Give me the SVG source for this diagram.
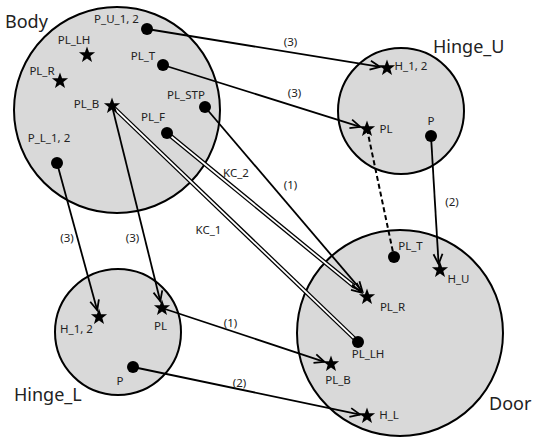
<svg xmlns="http://www.w3.org/2000/svg" xmlns:xlink="http://www.w3.org/1999/xlink" width="540" height="442" viewBox="0 0 540 442">
<style>
.big{fill:#d9d9d9;stroke:#000;stroke-width:2}
.title{font-family:"Noto Sans","DejaVu Sans",sans-serif;font-size:18px;fill:#222}
.lbl{font-family:"Noto Sans","DejaVu Sans",sans-serif;font-size:11.5px;fill:#222;text-anchor:middle}
.ln{fill:none;stroke:#000;stroke-width:1.8}
.arr{fill:none;stroke:#000;stroke-width:1.8;marker-end:url(#ah)}
.dbo{fill:none;stroke:#000;stroke-width:4.4}
.dbi{fill:none;stroke:#fff;stroke-width:1.8}
.dash{fill:none;stroke:#000;stroke-width:2;stroke-dasharray:5 3}
.dot{fill:#000}
</style>
<defs>
<marker id="ah" markerUnits="userSpaceOnUse" markerWidth="14" markerHeight="12" refX="10" refY="4.5" orient="auto" overflow="visible">
<path d="M0,0 L10,4.5 L0,9" fill="none" stroke="#000" stroke-width="1.8"/>
</marker>
<path id="star" d="M0,-8.5 L2.06,-2.83 L8.08,-2.63 L3.33,1.08 L5,6.88 L0,3.5 L-5,6.88 L-3.33,1.08 L-8.08,-2.63 L-2.06,-2.83 Z" fill="#000"/>
</defs>

<g id="Body">
<circle class="big" cx="117" cy="110" r="103"/>
<text class="title" x="5" y="28">Body</text>
</g>
<g id="Hinge_U">
<circle class="big" cx="401" cy="111" r="63"/>
<text class="title" x="433" y="53">Hinge_U</text>
</g>
<g id="Hinge_L">
<circle class="big" cx="118" cy="332" r="63"/>
<text class="title" x="14" y="401">Hinge_L</text>
</g>
<g id="Door">
<circle class="big" cx="400" cy="333" r="103"/>
<text class="title" x="489" y="410">Door</text>
</g>

<g id="connectors">
<line class="arr" x1="147" y1="29" x2="380.1" y2="66.9"/>
<text class="lbl" x="290.5" y="46">(3)</text>
<line class="arr" x1="163" y1="65" x2="360.3" y2="126.9"/>
<text class="lbl" x="294.5" y="97">(3)</text>
<line class="arr" x1="205" y1="107" x2="362.5" y2="291.7"/>
<text class="lbl" x="290.5" y="189">(1)</text>
<line class="dbo" x1="167" y1="133" x2="354" y2="286.3"/>
<line class="dbi" x1="167" y1="133" x2="353" y2="285.5"/>
<line class="arr" x1="352" y1="284.8" x2="361.6" y2="292.6"/>
<text class="lbl" x="236" y="177">KC_2</text>
<line class="dbo" x1="112" y1="106" x2="358" y2="342"/>
<line class="dbi" x1="112" y1="106" x2="358" y2="342"/>
<text class="lbl" x="208.5" y="234">KC_1</text>
<line class="arr" x1="112" y1="106" x2="160.3" y2="301.2"/>
<text class="lbl" x="132.5" y="242">(3)</text>
<line class="arr" x1="57" y1="163" x2="97.2" y2="310.2"/>
<text class="lbl" x="67" y="242">(3)</text>
<line class="dash" x1="367" y1="129" x2="394" y2="257"/>
<line class="arr" x1="431" y1="136" x2="438.6" y2="264"/>
<text class="lbl" x="452" y="206">(2)</text>
<line class="arr" x1="162" y1="308" x2="324.4" y2="361.8"/>
<text class="lbl" x="230.5" y="327">(1)</text>
<line class="arr" x1="133" y1="367" x2="360.1" y2="414.6"/>
<text class="lbl" x="239.5" y="387">(2)</text>
</g>

<g id="Body.P_U_1_2"><circle class="dot" cx="147" cy="29" r="6"/><text class="lbl" x="116.5" y="23">P_U_1, 2</text></g>
<g id="Body.PL_LH"><use xlink:href="#star" href="#star" x="87" y="55"/><text class="lbl" x="74" y="44">PL_LH</text></g>
<g id="Body.PL_T"><circle class="dot" cx="163" cy="65" r="6"/><text class="lbl" x="143" y="60">PL_T</text></g>
<g id="Body.PL_R"><use xlink:href="#star" href="#star" x="60" y="81"/><text class="lbl" x="42" y="75">PL_R</text></g>
<g id="Body.PL_B"><use xlink:href="#star" href="#star" x="112" y="106"/><text class="lbl" x="86.5" y="108">PL_B</text></g>
<g id="Body.PL_STP"><circle class="dot" cx="205" cy="107" r="6"/><text class="lbl" x="186" y="99">PL_STP</text></g>
<g id="Body.PL_F"><circle class="dot" cx="167" cy="133" r="6"/><text class="lbl" x="153" y="121">PL_F</text></g>
<g id="Body.P_L_1_2"><circle class="dot" cx="57" cy="163" r="6"/><text class="lbl" x="49" y="142">P_L_1, 2</text></g>

<g id="Hinge_U.H_1_2"><use xlink:href="#star" href="#star" x="387" y="68"/><text class="lbl" x="411" y="70">H_1, 2</text></g>
<g id="Hinge_U.PL"><use xlink:href="#star" href="#star" x="367" y="129"/><text class="lbl" x="386" y="133">PL</text></g>
<g id="Hinge_U.P"><circle class="dot" cx="431" cy="136" r="6"/><text class="lbl" x="431" y="125">P</text></g>

<g id="Hinge_L.H_1_2"><use xlink:href="#star" href="#star" x="99" y="317"/><text class="lbl" x="76.5" y="333">H_1, 2</text></g>
<g id="Hinge_L.PL"><use xlink:href="#star" href="#star" x="162" y="308"/><text class="lbl" x="160.5" y="330">PL</text></g>
<g id="Hinge_L.P"><circle class="dot" cx="133" cy="367" r="6"/><text class="lbl" x="120" y="385">P</text></g>

<g id="Door.PL_T"><circle class="dot" cx="394" cy="257" r="6"/><text class="lbl" x="410.5" y="250">PL_T</text></g>
<g id="Door.H_U"><use xlink:href="#star" href="#star" x="440" y="270"/><text class="lbl" x="458.5" y="283">H_U</text></g>
<g id="Door.PL_R"><use xlink:href="#star" href="#star" x="367" y="297"/><text class="lbl" x="392.5" y="311">PL_R</text></g>
<g id="Door.PL_LH"><circle class="dot" cx="358" cy="342" r="6"/><text class="lbl" x="368" y="358">PL_LH</text></g>
<g id="Door.PL_B"><use xlink:href="#star" href="#star" x="331" y="364"/><text class="lbl" x="338" y="384">PL_B</text></g>
<g id="Door.H_L"><use xlink:href="#star" href="#star" x="367" y="416"/><text class="lbl" x="389" y="419">H_L</text></g>
</svg>
